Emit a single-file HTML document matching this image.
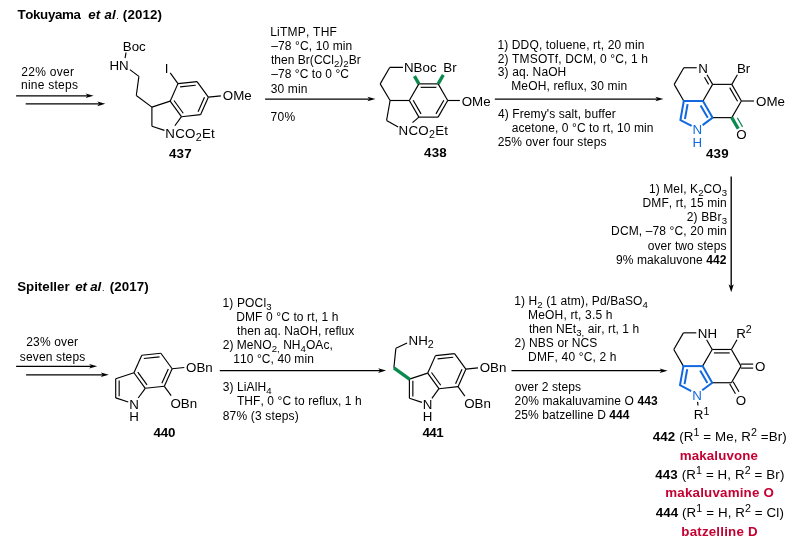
<!DOCTYPE html>
<html><head><meta charset="utf-8"><title>Scheme</title>
<style>
html,body{margin:0;padding:0;background:#fff;}
svg{display:block;will-change:transform;font-family:"Liberation Sans",sans-serif;font-kerning:none;}
text{white-space:pre;}
</style></head>
<body>
<svg width="794" height="550" viewBox="0 0 794 550">
<rect width="794" height="550" fill="#fff"/>
<text x="17.45" y="19.3" font-size="13.33" fill="#000" font-weight="bold" letter-spacing="-0.338">Tokuyama</text>
<text x="88.19" y="19.3" font-size="13.33" fill="#000" font-weight="bold" letter-spacing="0.227"><tspan font-style="italic">et al</tspan></text>
<text x="116.18" y="19.3" font-size="9" fill="#000">.</text>
<text x="122.84" y="19.3" font-size="13.33" fill="#000" font-weight="bold" letter-spacing="0.139">(2012)</text>
<text x="17.22" y="291.2" font-size="13.33" fill="#000" font-weight="bold" letter-spacing="-0.026">Spiteller</text>
<text x="75.19" y="291.2" font-size="13.33" fill="#000" font-weight="bold" letter-spacing="-0.148"><tspan font-style="italic">et al</tspan></text>
<text x="101.98" y="291.2" font-size="9" fill="#000">.</text>
<text x="109.84" y="291.2" font-size="13.33" fill="#000" font-weight="bold" letter-spacing="0.079">(2017)</text>
<text x="21.2" y="75.5" font-size="12" fill="#000" letter-spacing="0.301">22% over</text>
<text x="21" y="89" font-size="12" fill="#000" letter-spacing="0.247">nine steps</text>
<line x1="16.1" y1="95.8" x2="88" y2="95.8" stroke="#000" stroke-width="1.25"/>
<path d="M93.6 95.8 L85.6 93.5 L87.6 95.8 L85.6 98.1 Z" fill="#000"/>
<line x1="25.7" y1="103.85" x2="99.7" y2="103.85" stroke="#000" stroke-width="1.25"/>
<path d="M105.3 103.85 L97.3 101.55 L99.3 103.85 L97.3 106.15 Z" fill="#000"/>
<text x="26.2" y="346.1" font-size="12" fill="#000" letter-spacing="0.172">23% over</text>
<text x="19.87" y="360.5" font-size="12" fill="#000" letter-spacing="0.133">seven steps</text>
<line x1="16.1" y1="366.3" x2="91.55" y2="366.3" stroke="#000" stroke-width="1.25"/>
<path d="M97.15 366.3 L89.15 364 L91.15 366.3 L89.15 368.6 Z" fill="#000"/>
<line x1="26.1" y1="374.8" x2="103.2" y2="374.8" stroke="#000" stroke-width="1.25"/>
<path d="M108.8 374.8 L100.8 372.5 L102.8 374.8 L100.8 377.1 Z" fill="#000"/>
<text x="270.22" y="36.1" font-size="12" fill="#000" letter-spacing="0.222">LiTMP, THF</text>
<text x="271.2" y="50.2" font-size="12" fill="#000" letter-spacing="0.121">–78 °C, 10 min</text>
<text x="271.02" y="64.3" font-size="12" fill="#000" letter-spacing="0.022">then Br(CCl<tspan dy="2.8" font-size="9.6">2</tspan><tspan dy="-2.8">)</tspan><tspan dy="2.8" font-size="9.6">2</tspan><tspan dy="-2.8">Br</tspan></text>
<text x="271.2" y="78.4" font-size="12" fill="#000" letter-spacing="0.068">–78 °C to 0 °C</text>
<text x="270.74" y="92.5" font-size="12" fill="#000" letter-spacing="0.144">30 min</text>
<line x1="265.1" y1="99" x2="369.85" y2="99" stroke="#000" stroke-width="1.25"/>
<path d="M375.45 99 L367.45 96.7 L369.45 99 L367.45 101.3 Z" fill="#000"/>
<text x="270.58" y="120.5" font-size="12" fill="#000" letter-spacing="0.313">70%</text>
<text x="497.39" y="48.6" font-size="12" fill="#000" letter-spacing="0.139">1) DDQ, toluene, rt, 20 min</text>
<text x="497.7" y="62.5" font-size="12" fill="#000" letter-spacing="0.144">2) TMSOTf, DCM, 0 °C, 1 h</text>
<text x="497.84" y="76.4" font-size="12" fill="#000" letter-spacing="0.108">3) aq. NaOH</text>
<text x="511.22" y="90.3" font-size="12" fill="#000" letter-spacing="0.137">MeOH, reflux, 30 min</text>
<line x1="494.8" y1="99" x2="657.8" y2="99" stroke="#000" stroke-width="1.25"/>
<path d="M663.4 99 L655.4 96.7 L657.4 99 L655.4 101.3 Z" fill="#000"/>
<text x="498.02" y="118.1" font-size="12" fill="#000" letter-spacing="0.096">4) Fremy's salt, buffer</text>
<text x="511.69" y="132.1" font-size="12" fill="#000" letter-spacing="0.087">acetone, 0 °C to rt, 10 min</text>
<text x="497.7" y="146.2" font-size="12" fill="#000" letter-spacing="0.112">25% over four steps</text>
<text x="648.99" y="192.8" font-size="12" fill="#000" letter-spacing="0.057">1) MeI, K<tspan dy="2.8" font-size="9.6">2</tspan><tspan dy="-2.8">CO</tspan><tspan dy="2.8" font-size="9.6">3</tspan></text>
<text x="642.52" y="207" font-size="12" fill="#000" letter-spacing="0.113">DMF, rt, 15 min</text>
<text x="686.7" y="221.2" font-size="12" fill="#000" letter-spacing="0.163">2) BBr<tspan dy="2.8" font-size="9.6">3</tspan></text>
<text x="611.12" y="235.4" font-size="12" fill="#000" letter-spacing="0.12">DCM, –78 °C, 20 min</text>
<text x="647.7" y="249.6" font-size="12" fill="#000" letter-spacing="0.105">over two steps</text>
<text x="615.94" y="263.8" font-size="12" fill="#000" letter-spacing="0.113">9% makaluvone <tspan font-weight="bold">442</tspan></text>
<line x1="731.2" y1="176.5" x2="731.2" y2="286.7" stroke="#000" stroke-width="1.35"/>
<path d="M731.2 292.3 L728.6 284.3 L731.2 286.3 L733.8 284.3 Z" fill="#000"/>
<text x="222.39" y="307" font-size="12" fill="#000" letter-spacing="0.175">1) POCl<tspan dy="2.8" font-size="9.6">3</tspan></text>
<text x="236.22" y="320.95" font-size="12" fill="#000" letter-spacing="0.117">DMF 0 °C to rt, 1 h</text>
<text x="237.02" y="334.9" font-size="12" fill="#000" letter-spacing="0.063">then aq. NaOH, reflux</text>
<text x="222.7" y="348.85" font-size="12" fill="#000" letter-spacing="0.045">2) MeNO<tspan dy="2.8" font-size="9.6">2,</tspan><tspan dy="-2.8"> NH</tspan><tspan dy="2.8" font-size="9.6">4</tspan><tspan dy="-2.8">OAc,</tspan></text>
<text x="233.19" y="362.8" font-size="12" fill="#000" letter-spacing="0.091">110 °C, 40 min</text>
<line x1="219.8" y1="370.6" x2="380.5" y2="370.6" stroke="#000" stroke-width="1.25"/>
<path d="M386.1 370.6 L378.1 368.3 L380.1 370.6 L378.1 372.9 Z" fill="#000"/>
<text x="222.84" y="391.4" font-size="12" fill="#000" letter-spacing="0.077">3) LiAlH<tspan dy="2.8" font-size="9.6">4</tspan></text>
<text x="236.93" y="405.4" font-size="12" fill="#000" letter-spacing="0.083">THF, 0 °C to reflux, 1 h</text>
<text x="222.78" y="419.6" font-size="12" fill="#000" letter-spacing="0.161">87% (3 steps)</text>
<text x="514.29" y="305.4" font-size="12" fill="#000" letter-spacing="0.101">1) H<tspan dy="2.8" font-size="9.6">2</tspan><tspan dy="-2.8"> (1 atm), Pd/BaSO</tspan><tspan dy="2.8" font-size="9.6">4</tspan></text>
<text x="528.12" y="319.37" font-size="12" fill="#000" letter-spacing="0.167">MeOH, rt, 3.5 h</text>
<text x="528.92" y="333.34" font-size="12" fill="#000" letter-spacing="0.07">then NEt<tspan dy="2.8" font-size="9.6">3,</tspan><tspan dy="-2.8"> air, rt, 1 h</tspan></text>
<text x="514.6" y="347.31" font-size="12" fill="#000" letter-spacing="0.117">2) NBS or NCS</text>
<text x="528.12" y="361.28" font-size="12" fill="#000" letter-spacing="0.158">DMF, 40 °C, 2 h</text>
<line x1="511.5" y1="370.7" x2="662" y2="370.7" stroke="#000" stroke-width="1.25"/>
<path d="M667.6 370.7 L659.6 368.4 L661.6 370.7 L659.6 373 Z" fill="#000"/>
<text x="514.7" y="390.7" font-size="12" fill="#000" letter-spacing="0.088">over 2 steps</text>
<text x="514.6" y="404.8" font-size="12" fill="#000" letter-spacing="0.109">20% makaluvamine O <tspan font-weight="bold">443</tspan></text>
<text x="514.6" y="418.8" font-size="12" fill="#000" letter-spacing="0.08">25% batzelline D <tspan font-weight="bold">444</tspan></text>
<text x="652.8" y="440.9" font-size="13.33" fill="#000" letter-spacing="0.103"><tspan font-weight="bold">442</tspan> (R<tspan dy="-4.53" font-size="10.66">1</tspan><tspan dy="4.53"> = Me, R</tspan><tspan dy="-4.53" font-size="10.66">2</tspan><tspan dy="4.53"> =Br)</tspan></text>
<text x="679.82" y="459.6" font-size="13.33" fill="#C40032" font-weight="bold" letter-spacing="0.109">makaluvone</text>
<text x="655.3" y="478.6" font-size="13.33" fill="#000" letter-spacing="0.117"><tspan font-weight="bold">443</tspan> (R<tspan dy="-4.53" font-size="10.66">1</tspan><tspan dy="4.53"> = H, R</tspan><tspan dy="-4.53" font-size="10.66">2</tspan><tspan dy="4.53"> = Br)</tspan></text>
<text x="665.32" y="497.3" font-size="13.33" fill="#C40032" font-weight="bold" letter-spacing="0.199">makaluvamine O</text>
<text x="655.7" y="517" font-size="13.33" fill="#000" letter-spacing="0.109"><tspan font-weight="bold">444</tspan> (R<tspan dy="-4.53" font-size="10.66">1</tspan><tspan dy="4.53"> = H, R</tspan><tspan dy="-4.53" font-size="10.66">2</tspan><tspan dy="4.53"> = Cl)</tspan></text>
<text x="681.31" y="535.6" font-size="13.33" fill="#C40032" font-weight="bold" letter-spacing="0.2">batzelline D</text>
<line x1="151.9" y1="107.1" x2="151.9" y2="126.3" stroke="#000" stroke-width="1.15"/>
<line x1="151.9" y1="126.3" x2="164.45" y2="130.38" stroke="#000" stroke-width="1.15"/>
<line x1="174.86" y1="125.76" x2="181.45" y2="116.7" stroke="#000" stroke-width="1.15"/>
<line x1="151.9" y1="107.1" x2="170.16" y2="101.17" stroke="#000" stroke-width="1.15"/>
<line x1="170.16" y1="101.17" x2="181.45" y2="116.7" stroke="#000" stroke-width="1.15"/>
<line x1="173.98" y1="100.53" x2="183.23" y2="113.27" stroke="#000" stroke-width="1.15"/>
<line x1="170.16" y1="101.17" x2="177.97" y2="83.63" stroke="#000" stroke-width="1.15"/>
<line x1="177.97" y1="83.63" x2="197.06" y2="81.62" stroke="#000" stroke-width="1.15"/>
<line x1="180.05" y1="86.89" x2="195.71" y2="85.24" stroke="#000" stroke-width="1.15"/>
<line x1="197.06" y1="81.62" x2="208.35" y2="97.15" stroke="#000" stroke-width="1.15"/>
<line x1="208.35" y1="97.15" x2="200.54" y2="114.69" stroke="#000" stroke-width="1.15"/>
<line x1="204.49" y1="97.33" x2="198.08" y2="111.71" stroke="#000" stroke-width="1.15"/>
<line x1="200.54" y1="114.69" x2="181.45" y2="116.7" stroke="#000" stroke-width="1.15"/>
<text x="165.35" y="137.91" font-size="13.33" fill="#000" letter-spacing="0.25">NCO<tspan dy="3.11" font-size="10.66">2</tspan><tspan dy="-3.11">Et</tspan></text>
<line x1="177.97" y1="83.63" x2="170.21" y2="72.95" stroke="#000" stroke-width="1.15"/>
<text x="164.83" y="73.27" font-size="13.33" fill="#000">I</text>
<line x1="208.35" y1="97.15" x2="220.88" y2="95.84" stroke="#000" stroke-width="1.15"/>
<text x="222.86" y="100.32" font-size="13.33" fill="#000">OMe</text>
<line x1="151.9" y1="107.1" x2="136.3" y2="95.5" stroke="#000" stroke-width="1.15"/>
<line x1="136.3" y1="95.5" x2="138.9" y2="76.4" stroke="#000" stroke-width="1.15"/>
<line x1="138.9" y1="76.4" x2="129.89" y2="69.61" stroke="#000" stroke-width="1.15"/>
<line x1="125.07" y1="58.2" x2="126.03" y2="52.5" stroke="#000" stroke-width="1.15"/>
<text x="109.46" y="70.27" font-size="13.33" fill="#000">HN</text>
<text x="122.75" y="50.77" font-size="13.33" fill="#000">Boc</text>
<text x="169" y="157.5" font-size="13.33" fill="#000" font-weight="bold" letter-spacing="0.174">437</text>
<line x1="418.9" y1="83.87" x2="438.1" y2="83.87" stroke="#000" stroke-width="1.15"/>
<line x1="420.63" y1="87.33" x2="436.37" y2="87.33" stroke="#000" stroke-width="1.15"/>
<line x1="438.1" y1="83.87" x2="447.7" y2="100.5" stroke="#000" stroke-width="1.15"/>
<line x1="447.7" y1="100.5" x2="438.1" y2="117.13" stroke="#000" stroke-width="1.15"/>
<line x1="443.84" y1="100.27" x2="435.97" y2="113.9" stroke="#000" stroke-width="1.15"/>
<line x1="438.1" y1="117.13" x2="418.9" y2="117.13" stroke="#000" stroke-width="1.15"/>
<line x1="418.9" y1="117.13" x2="409.3" y2="100.5" stroke="#000" stroke-width="1.15"/>
<line x1="421.03" y1="113.9" x2="413.16" y2="100.27" stroke="#000" stroke-width="1.15"/>
<line x1="409.3" y1="100.5" x2="418.9" y2="83.87" stroke="#000" stroke-width="1.15"/>
<line x1="409.3" y1="100.5" x2="390.1" y2="100.5" stroke="#000" stroke-width="1.15"/>
<line x1="390.1" y1="100.5" x2="380.2" y2="83.87" stroke="#000" stroke-width="1.15"/>
<line x1="380.2" y1="83.87" x2="389.7" y2="67.44" stroke="#000" stroke-width="1.15"/>
<line x1="389.7" y1="67.44" x2="403" y2="67.31" stroke="#000" stroke-width="1.15"/>
<line x1="418.9" y1="83.87" x2="414.45" y2="76.16" stroke="#0B8A4D" stroke-width="3.3"/>
<line x1="438.1" y1="83.87" x2="443.3" y2="74.87" stroke="#0B8A4D" stroke-width="3.3"/>
<text x="403.99" y="72.41" font-size="13.33" fill="#000">NBoc</text>
<text x="443.25" y="72.42" font-size="13.33" fill="#000">Br</text>
<line x1="447.7" y1="100.5" x2="459.9" y2="100.5" stroke="#000" stroke-width="1.15"/>
<text x="461.72" y="105.67" font-size="13.33" fill="#000">OMe</text>
<line x1="390.1" y1="100.5" x2="386.6" y2="120.4" stroke="#000" stroke-width="1.15"/>
<line x1="386.6" y1="120.4" x2="398.14" y2="126.91" stroke="#000" stroke-width="1.15"/>
<line x1="412.52" y1="122.61" x2="418.9" y2="117.13" stroke="#000" stroke-width="1.15"/>
<text x="398.59" y="135.27" font-size="13.33" fill="#000" letter-spacing="0.25">NCO<tspan dy="3.11" font-size="10.66">2</tspan><tspan dy="-3.11">Et</tspan></text>
<text x="424.1" y="157.4" font-size="13.33" fill="#000" font-weight="bold" letter-spacing="0.136">438</text>
<line x1="683.8" y1="101" x2="674.2" y2="84.37" stroke="#000" stroke-width="1.15"/>
<line x1="674.2" y1="84.37" x2="683.8" y2="67.74" stroke="#000" stroke-width="1.15"/>
<line x1="683.8" y1="67.74" x2="696.7" y2="67.74" stroke="#000" stroke-width="1.15"/>
<line x1="707" y1="74.67" x2="712.6" y2="84.37" stroke="#000" stroke-width="1.15"/>
<line x1="704.5" y1="77.27" x2="708.6" y2="84.37" stroke="#000" stroke-width="1.15"/>
<text x="698.19" y="72.91" font-size="13.33" fill="#000">N</text>
<line x1="712.6" y1="84.37" x2="703" y2="101" stroke="#000" stroke-width="1.15"/>
<line x1="712.6" y1="84.37" x2="731.8" y2="84.37" stroke="#000" stroke-width="1.15"/>
<line x1="731.8" y1="84.37" x2="741.4" y2="101" stroke="#000" stroke-width="1.15"/>
<line x1="729.67" y1="87.6" x2="737.54" y2="101.23" stroke="#000" stroke-width="1.15"/>
<line x1="741.4" y1="101" x2="731.8" y2="117.63" stroke="#000" stroke-width="1.15"/>
<line x1="731.8" y1="117.63" x2="712.6" y2="117.63" stroke="#000" stroke-width="1.15"/>
<line x1="731.8" y1="84.37" x2="737.4" y2="74.67" stroke="#000" stroke-width="1.15"/>
<text x="736.95" y="72.92" font-size="13.33" fill="#000">Br</text>
<line x1="741.4" y1="101" x2="754" y2="101" stroke="#000" stroke-width="1.15"/>
<text x="756.02" y="106.17" font-size="13.33" fill="#000">OMe</text>
<line x1="731.65" y1="117.37" x2="738.2" y2="128.71" stroke="#0B8A4D" stroke-width="3.3"/>
<line x1="737.37" y1="117.88" x2="742.57" y2="126.88" stroke="#0B8A4D" stroke-width="1.15"/>
<text x="736.22" y="139.43" font-size="13.33" fill="#000">O</text>
<line x1="683.2" y1="101" x2="703" y2="101" stroke="#1269DF" stroke-width="2"/>
<line x1="703" y1="101" x2="712.6" y2="117.63" stroke="#1269DF" stroke-width="2"/>
<line x1="700.58" y1="105.4" x2="707.78" y2="117.87" stroke="#1269DF" stroke-width="2"/>
<line x1="713" y1="117.33" x2="702.6" y2="125.11" stroke="#1269DF" stroke-width="2"/>
<line x1="691.66" y1="125.96" x2="679.96" y2="119.77" stroke="#1269DF" stroke-width="2"/>
<line x1="680.31" y1="120.49" x2="683.89" y2="100.51" stroke="#1269DF" stroke-width="2"/>
<line x1="684.95" y1="118.99" x2="687.61" y2="104.12" stroke="#1269DF" stroke-width="2"/>
<text x="692.59" y="134.37" font-size="13.33" fill="#1269DF">N</text>
<text x="692.59" y="146.97" font-size="13.33" fill="#1269DF">H</text>
<text x="705.9" y="157.6" font-size="13.33" fill="#000" font-weight="bold" letter-spacing="0.228">439</text>
<line x1="683.4" y1="366.1" x2="673.8" y2="349.47" stroke="#000" stroke-width="1.15"/>
<line x1="673.8" y1="349.47" x2="683.4" y2="332.84" stroke="#000" stroke-width="1.15"/>
<line x1="683.4" y1="332.84" x2="696.3" y2="332.84" stroke="#000" stroke-width="1.15"/>
<line x1="706.6" y1="339.77" x2="712.2" y2="349.47" stroke="#000" stroke-width="1.15"/>
<text x="697.79" y="338.01" font-size="13.33" fill="#000">NH</text>
<line x1="712.2" y1="349.47" x2="702.6" y2="366.1" stroke="#000" stroke-width="1.15"/>
<line x1="712.2" y1="349.47" x2="731.4" y2="349.47" stroke="#000" stroke-width="1.15"/>
<line x1="713.93" y1="352.93" x2="729.67" y2="352.93" stroke="#000" stroke-width="1.15"/>
<line x1="731.4" y1="349.47" x2="741" y2="366.1" stroke="#000" stroke-width="1.15"/>
<line x1="741" y1="366.1" x2="731.4" y2="382.73" stroke="#000" stroke-width="1.15"/>
<line x1="731.4" y1="382.73" x2="712.2" y2="382.73" stroke="#000" stroke-width="1.15"/>
<line x1="731.4" y1="349.47" x2="737" y2="339.77" stroke="#000" stroke-width="1.15"/>
<text x="736.19" y="338.02" font-size="13.33" fill="#000">R<tspan dy="-4.53" font-size="10.66">2</tspan></text>
<line x1="741" y1="364.1" x2="753.2" y2="364.1" stroke="#000" stroke-width="1.15"/>
<line x1="741" y1="368.1" x2="753.2" y2="368.1" stroke="#000" stroke-width="1.15"/>
<text x="755.02" y="371.27" font-size="13.33" fill="#000">O</text>
<line x1="733.13" y1="381.73" x2="738.93" y2="391.77" stroke="#000" stroke-width="1.15"/>
<line x1="729.67" y1="383.73" x2="735.47" y2="393.77" stroke="#000" stroke-width="1.15"/>
<text x="735.82" y="404.53" font-size="13.33" fill="#000">O</text>
<line x1="682.8" y1="366.1" x2="702.6" y2="366.1" stroke="#1269DF" stroke-width="2"/>
<line x1="702.6" y1="366.1" x2="712.2" y2="382.73" stroke="#1269DF" stroke-width="2"/>
<line x1="700.18" y1="370.5" x2="707.38" y2="382.97" stroke="#1269DF" stroke-width="2"/>
<line x1="712.6" y1="382.43" x2="702.2" y2="390.21" stroke="#1269DF" stroke-width="2"/>
<line x1="691.26" y1="391.06" x2="679.56" y2="384.87" stroke="#1269DF" stroke-width="2"/>
<line x1="679.91" y1="385.59" x2="683.49" y2="365.61" stroke="#1269DF" stroke-width="2"/>
<line x1="684.55" y1="384.09" x2="687.21" y2="369.22" stroke="#1269DF" stroke-width="2"/>
<text x="692.19" y="400.07" font-size="13.33" fill="#1269DF">N</text>
<line x1="697.6" y1="401.9" x2="698" y2="405.5" stroke="#000" stroke-width="1.15"/>
<text x="693.79" y="419.17" font-size="13.33" fill="#000">R<tspan dy="-4.53" font-size="10.66">1</tspan></text>
<line x1="115.7" y1="397.9" x2="115.7" y2="378.7" stroke="#000" stroke-width="1.15"/>
<line x1="119.16" y1="396.17" x2="119.16" y2="380.43" stroke="#000" stroke-width="1.15"/>
<line x1="115.7" y1="397.9" x2="128.25" y2="401.98" stroke="#000" stroke-width="1.15"/>
<line x1="138.19" y1="398.01" x2="145.25" y2="388.3" stroke="#000" stroke-width="1.15"/>
<line x1="115.7" y1="378.7" x2="133.96" y2="372.77" stroke="#000" stroke-width="1.15"/>
<line x1="133.96" y1="372.77" x2="145.25" y2="388.3" stroke="#000" stroke-width="1.15"/>
<line x1="137.78" y1="372.13" x2="147.03" y2="384.87" stroke="#000" stroke-width="1.15"/>
<line x1="133.96" y1="372.77" x2="141.77" y2="355.23" stroke="#000" stroke-width="1.15"/>
<line x1="141.77" y1="355.23" x2="160.86" y2="353.22" stroke="#000" stroke-width="1.15"/>
<line x1="143.85" y1="358.49" x2="159.51" y2="356.84" stroke="#000" stroke-width="1.15"/>
<line x1="160.86" y1="353.22" x2="172.15" y2="368.75" stroke="#000" stroke-width="1.15"/>
<line x1="172.15" y1="368.75" x2="164.34" y2="386.29" stroke="#000" stroke-width="1.15"/>
<line x1="168.29" y1="368.93" x2="161.88" y2="383.31" stroke="#000" stroke-width="1.15"/>
<line x1="164.34" y1="386.29" x2="145.25" y2="388.3" stroke="#000" stroke-width="1.15"/>
<text x="129.15" y="409.01" font-size="13.33" fill="#000">N</text>
<text x="129.15" y="420.61" font-size="13.33" fill="#000">H</text>
<line x1="172.15" y1="368.75" x2="184.28" y2="367.48" stroke="#000" stroke-width="1.15"/>
<text x="186.06" y="371.92" font-size="13.33" fill="#000">OBn</text>
<line x1="164.34" y1="386.29" x2="171.16" y2="395.68" stroke="#000" stroke-width="1.15"/>
<text x="170.44" y="407.5" font-size="13.33" fill="#000">OBn</text>
<text x="153.4" y="437.4" font-size="13.33" fill="#000" font-weight="bold" letter-spacing="-0.096">440</text>
<line x1="409.4" y1="398.3" x2="409.4" y2="379.1" stroke="#000" stroke-width="1.15"/>
<line x1="412.86" y1="396.57" x2="412.86" y2="380.83" stroke="#000" stroke-width="1.15"/>
<line x1="409.4" y1="398.3" x2="421.95" y2="402.38" stroke="#000" stroke-width="1.15"/>
<line x1="431.89" y1="398.41" x2="438.95" y2="388.7" stroke="#000" stroke-width="1.15"/>
<line x1="409.4" y1="379.1" x2="427.66" y2="373.17" stroke="#000" stroke-width="1.15"/>
<line x1="427.66" y1="373.17" x2="438.95" y2="388.7" stroke="#000" stroke-width="1.15"/>
<line x1="431.48" y1="372.53" x2="440.73" y2="385.27" stroke="#000" stroke-width="1.15"/>
<line x1="427.66" y1="373.17" x2="435.47" y2="355.63" stroke="#000" stroke-width="1.15"/>
<line x1="435.47" y1="355.63" x2="454.56" y2="353.62" stroke="#000" stroke-width="1.15"/>
<line x1="437.55" y1="358.89" x2="453.21" y2="357.24" stroke="#000" stroke-width="1.15"/>
<line x1="454.56" y1="353.62" x2="465.85" y2="369.15" stroke="#000" stroke-width="1.15"/>
<line x1="465.85" y1="369.15" x2="458.04" y2="386.69" stroke="#000" stroke-width="1.15"/>
<line x1="461.99" y1="369.33" x2="455.58" y2="383.71" stroke="#000" stroke-width="1.15"/>
<line x1="458.04" y1="386.69" x2="438.95" y2="388.7" stroke="#000" stroke-width="1.15"/>
<text x="422.85" y="409.41" font-size="13.33" fill="#000">N</text>
<text x="422.85" y="421.01" font-size="13.33" fill="#000">H</text>
<line x1="465.85" y1="369.15" x2="477.98" y2="367.88" stroke="#000" stroke-width="1.15"/>
<text x="479.76" y="372.32" font-size="13.33" fill="#000">OBn</text>
<line x1="458.04" y1="386.69" x2="464.86" y2="396.08" stroke="#000" stroke-width="1.15"/>
<text x="464.14" y="407.9" font-size="13.33" fill="#000">OBn</text>
<line x1="409.8" y1="379.39" x2="393.87" y2="367.81" stroke="#0B8A4D" stroke-width="3.3"/>
<line x1="393.87" y1="367.81" x2="395.87" y2="348.32" stroke="#000" stroke-width="1.15"/>
<line x1="395.87" y1="348.32" x2="407.07" y2="343.08" stroke="#000" stroke-width="1.15"/>
<text x="408.6" y="345.28" font-size="13.33" fill="#000">NH<tspan dy="3.11" font-size="10.66">2</tspan></text>
<text x="422.4" y="437.4" font-size="13.33" fill="#000" font-weight="bold" letter-spacing="-0.484">441</text>
</svg>
</body></html>
